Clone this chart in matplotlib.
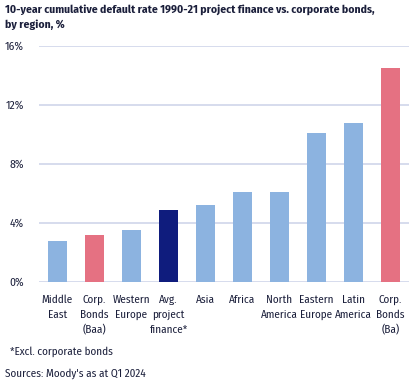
import matplotlib
matplotlib.use("Agg")
import matplotlib.pyplot as plt

categories = ["Middle\nEast", "Corp.\nBonds\n(Baa)", "Western\nEurope", "Avg.\nproject\nfinance*",
              "Asia", "Africa", "North\nAmerica", "Eastern\nEurope", "Latin\nAmerica", "Corp.\nBonds\n(Ba)"]
values = [2.8, 3.2, 3.5, 4.9, 5.2, 6.1, 6.1, 10.1, 10.8, 14.5]
bar_colors = ["#8CB3E0", "#E57182", "#8CB3E0", "#0F1C7D", "#8CB3E0", "#8CB3E0",
              "#8CB3E0", "#8CB3E0", "#8CB3E0", "#E57182"]
yticks = [0, 4, 8, 12, 16]
ytick_labels = ["0%", "4%", "8%", "12%", "16%"]
title = "10-year cumulative default rate 1990-21 project finance vs. corporate bonds,\nby region, %"
footnote = "*Excl. corporate bonds"
source = "Sources: Moody's as at Q1 2024"

plt.rcParams["font.family"] = ["Fira Sans Condensed", "DejaVu Sans"]

text_color = "#1B1F3B"
fig = plt.figure(figsize=(4.16, 3.84), dpi=100)
ax = fig.add_axes([39/416, 1 - 282/384, 370/416, (282 - 46)/384])

x = list(range(len(categories)))
ax.bar(x, values, width=0.54, color=bar_colors, zorder=3)
ax.set_xlim(-0.5, len(categories) - 0.5)
ax.set_ylim(0, 16)
ax.set_yticks(yticks)
ax.set_yticklabels(ytick_labels, fontsize=8.3, color=text_color)
ax.set_xticks(x)
ax.set_xticklabels(categories, fontsize=8, color=text_color, linespacing=1.5, va="top")
ax.tick_params(axis="both", length=0)
ax.tick_params(axis="x", pad=9)
ax.tick_params(axis="y", pad=11)
ax.yaxis.grid(True, color="#D0D6EA", linewidth=1.2, zorder=0)
for s in ax.spines.values():
    s.set_visible(False)

fig.text(5/416, 1 - 4/384, title, fontsize=8.3, fontweight="bold", color=text_color,
         va="top", ha="left", linespacing=1.55)
fig.text(10/416, 1 - 352/384, footnote, fontsize=8, color=text_color, va="center", ha="left")
fig.text(5/416, 1 - 374/384, source, fontsize=8, color=text_color, va="center", ha="left")

fig.savefig("out.png", dpi=100)
